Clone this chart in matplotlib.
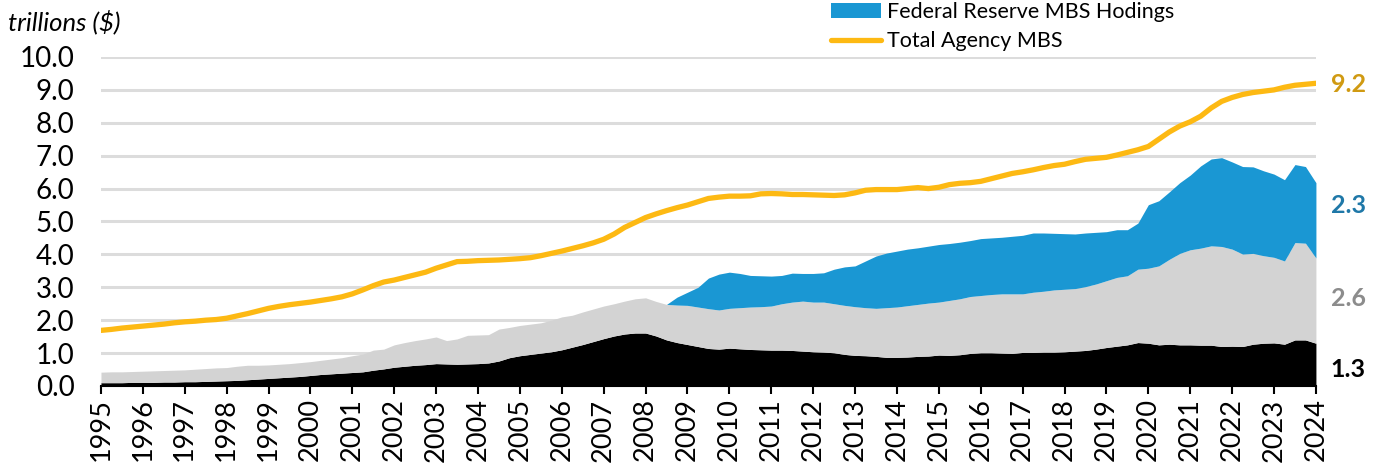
"""
Agency MBS outstanding vs Federal Reserve holdings, 1995-2024 (quarterly)
"""

import numpy as np
import matplotlib.pyplot as plt
from matplotlib.patches import Patch
from matplotlib.lines import Line2D

plt.rcParams['font.family'] = ['Lato', 'DejaVu Sans']

# quarters 1995Q1 .. 2024Q1
quarters = np.arange(1995, 2024.01, 0.25)

# top of the black layer (trillions)
black_top = [
    0.10, 0.10, 0.10, 0.11,  0.11, 0.11, 0.12, 0.12,  0.13, 0.13, 0.14, 0.15,
    0.16, 0.17, 0.19, 0.21,  0.23, 0.25, 0.27, 0.29,  0.32, 0.35, 0.37, 0.39,
    0.41, 0.43, 0.48, 0.52,  0.57, 0.60, 0.63, 0.65,  0.68, 0.67, 0.66, 0.67,
    0.68, 0.70, 0.76, 0.86,  0.92, 0.96, 1.00, 1.04,  1.10, 1.18, 1.26, 1.35,
    1.44, 1.52, 1.58, 1.61,  1.61, 1.52, 1.40, 1.32,  1.26, 1.20, 1.14, 1.12,
    1.15, 1.13, 1.11, 1.10,  1.09, 1.09, 1.08, 1.06,  1.04, 1.03, 1.01, 0.96,
    0.93, 0.92, 0.90, 0.87,  0.87, 0.88, 0.90, 0.91,  0.94, 0.93, 0.95, 0.99,
    1.01, 1.01, 1.00, 0.99,  1.02, 1.02, 1.03, 1.03,  1.04, 1.06, 1.08, 1.12,
    1.17, 1.21, 1.25, 1.32,  1.30, 1.25, 1.27, 1.25,  1.25, 1.24, 1.24, 1.20,
    1.21, 1.20, 1.27, 1.30,  1.31, 1.27, 1.40, 1.40,  1.30,
]

# top of the grey layer
grey_top = [
    0.42, 0.43, 0.43, 0.44,  0.45, 0.46, 0.47, 0.48,  0.49, 0.51, 0.53, 0.55,
    0.56, 0.60, 0.63, 0.63,  0.64, 0.66, 0.68, 0.71,  0.74, 0.78, 0.82, 0.86,
    0.92, 0.97, 1.09, 1.12,  1.25, 1.32, 1.38, 1.43,  1.49, 1.38, 1.43, 1.54,
    1.55, 1.56, 1.73, 1.78,  1.84, 1.88, 1.92, 2.00,  2.10, 2.15, 2.25, 2.34,
    2.43, 2.50, 2.58, 2.65,  2.68, 2.57, 2.48, 2.46,  2.45, 2.40, 2.35, 2.31,
    2.36, 2.38, 2.40, 2.41,  2.43, 2.50, 2.55, 2.58,  2.55, 2.55, 2.50, 2.45,
    2.41, 2.38, 2.36, 2.38,  2.40, 2.44, 2.48, 2.52,  2.55, 2.60, 2.65, 2.72,
    2.75, 2.78, 2.80, 2.80,  2.80, 2.85, 2.88, 2.92,  2.94, 2.96, 3.02, 3.10,
    3.20, 3.30, 3.35, 3.55,  3.58, 3.65, 3.85, 4.03,  4.14, 4.19, 4.26, 4.24,
    4.16, 4.01, 4.03, 3.96,  3.91, 3.80, 4.36, 4.34,  3.89,
]

# top of the Fed layer (nan before the Fed started buying)
fed_top = [np.nan] * 54 + [
    2.48, 2.70,  2.85, 3.00, 3.28, 3.40,
    3.46, 3.42, 3.36, 3.35,  3.34, 3.36, 3.43, 3.42,  3.42, 3.44, 3.55, 3.62,
    3.65, 3.80, 3.95, 4.04,  4.10, 4.16, 4.20, 4.25,  4.30, 4.33, 4.37, 4.42,
    4.48, 4.50, 4.52, 4.55,  4.58, 4.65, 4.65, 4.64,  4.63, 4.62, 4.65, 4.67,
    4.69, 4.75, 4.75, 4.95,  5.51, 5.63, 5.90, 6.18,  6.41, 6.69, 6.90, 6.94,
    6.81, 6.67, 6.66, 6.54,  6.44, 6.27, 6.73, 6.67,  6.18,
]

total_agency = [
    1.69, 1.72, 1.76, 1.79,  1.82, 1.85, 1.88, 1.92,  1.95, 1.97, 2.00, 2.02,
    2.06, 2.13, 2.20, 2.28,  2.36, 2.42, 2.47, 2.51,  2.55, 2.60, 2.65, 2.71,
    2.80, 2.92, 3.05, 3.16,  3.22, 3.30, 3.38, 3.46,  3.58, 3.68, 3.78, 3.79,
    3.81, 3.82, 3.83, 3.85,  3.87, 3.90, 3.96, 4.03,  4.10, 4.18, 4.26, 4.35,
    4.46, 4.62, 4.82, 4.97,  5.12, 5.23, 5.33, 5.42,  5.50, 5.60, 5.70, 5.74,
    5.77, 5.77, 5.78, 5.84,  5.85, 5.84, 5.82, 5.82,  5.81, 5.80, 5.79, 5.81,
    5.87, 5.95, 5.97, 5.97,  5.97, 6.00, 6.03, 6.00,  6.04, 6.12, 6.16, 6.18,
    6.22, 6.30, 6.38, 6.46,  6.51, 6.57, 6.64, 6.70,  6.74, 6.82, 6.89, 6.92,
    6.95, 7.02, 7.10, 7.18,  7.28, 7.50, 7.72, 7.90,  8.03, 8.20, 8.45, 8.65,
    8.77, 8.86, 8.92, 8.96,  9.00, 9.08, 9.14, 9.17,  9.20,
]

years = list(range(1995, 2025))
end_labels = ['9.2', '2.3', '2.6', '1.3']
end_label_y = [9.15, 5.5, 2.65, 0.5]

BLUE = '#1A97D3'
GREY = '#D3D3D3'
YELLOW = '#FDB913'
end_colors = ['#D09A12', '#1F78A8', '#8C8C8C', '#000000']

fig = plt.figure(figsize=(13.83, 4.69), dpi=100)
ax = fig.add_axes([0.073, 0.177, 0.8785, 0.7015])

ax.fill_between(quarters, 0, black_top, color='black', lw=0)
ax.fill_between(quarters, black_top, grey_top, color=GREY, lw=0)
ax.fill_between(quarters, grey_top, fed_top, color=BLUE, lw=0)
ax.plot(quarters, total_agency, color=YELLOW, lw=3.8, solid_capstyle='round')

ax.set_xlim(1995, 2024)
ax.set_ylim(0, 10)
ax.set_yticks(np.arange(0, 10.1, 1))
ax.set_yticklabels([f'{v:.1f}' for v in np.arange(0, 10.1, 1)])
ax.set_xticks(years)
ax.set_xticklabels([str(y) for y in years], rotation=90)
ax.grid(axis='y', color='#DCDCDC', lw=2.2)
ax.set_axisbelow(True)
for s in ['top', 'right', 'left']:
    ax.spines[s].set_visible(False)
ax.spines['bottom'].set_color('black')
ax.spines['bottom'].set_linewidth(1.5)
ax.tick_params(axis='y', length=0, pad=19, labelsize=20)
ax.tick_params(axis='x', length=6, width=1.5, pad=3, labelsize=19.5)

for txt, yv, c in zip(end_labels, end_label_y, end_colors):
    ax.text(2024.35, yv, txt, color=c, fontsize=18, fontweight='bold',
            va='center', ha='left', clip_on=False)

fig.text(0.006, 0.953, 'trillions ($)', fontsize=18.5, style='italic', va='center')

handles = [Patch(facecolor=BLUE, edgecolor='none'),
           Line2D([0], [0], color=YELLOW, lw=3.8, solid_capstyle='round')]
fig.legend(handles, ['Federal Reserve MBS Hodings', 'Total Agency MBS'],
           loc='upper left', bbox_to_anchor=(0.595, 1.015), frameon=False,
           fontsize=15.5, handlelength=2.3, handletextpad=0.3, labelspacing=0.45,
           borderaxespad=0)

fig.savefig('out.png', dpi=100)
